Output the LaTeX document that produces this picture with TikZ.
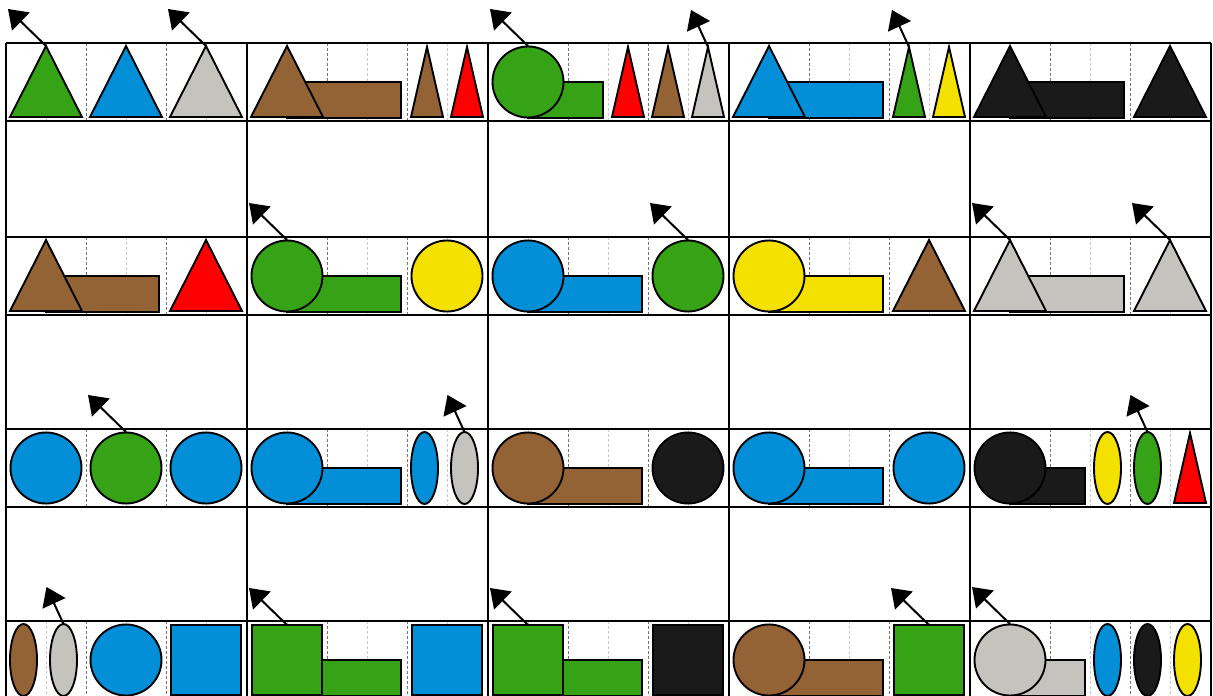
\documentclass[tikz,border=0pt]{standalone}
\usetikzlibrary{arrows.meta}
\definecolor{cgreen}{RGB}{54,162,21}
\definecolor{cblue}{RGB}{3,142,216}
\definecolor{cgray}{RGB}{196,195,190}
\definecolor{cbrown}{RGB}{148,99,53}
\definecolor{cred}{RGB}{255,0,0}
\definecolor{cyellow}{RGB}{245,225,0}
\definecolor{cblack}{RGB}{26,26,26}
\tikzset{
  shp/.style={draw=black, line width=1.9pt},
  frameline/.style={line width=1.9pt, black},
  darkguide/.style={draw=black!55, line width=1.1pt, dash pattern=on 3pt off 2pt},
  lightguide/.style={draw=black!22, line width=1.1pt, dash pattern=on 3pt off 2pt},
  pointer/.style={line width=2pt, -{Triangle[length=18pt,width=25pt]}},
}
\newcommand\guides[2]{%
  \draw[lightguide] (#1+40.2,#2) -- (#1+40.2,#2+78);
  \draw[lightguide] (#1+120.5,#2) -- (#1+120.5,#2+78);
  \draw[lightguide] (#1+200.8,#2) -- (#1+200.8,#2+78);
  \draw[darkguide] (#1+80.3,#2) -- (#1+80.3,#2+78);
  \draw[darkguide] (#1+160.7,#2) -- (#1+160.7,#2+78);}
\newcommand\shTri[3]{\filldraw[shp,fill=#3] (#1-36,#2+74) -- (#1,#2+3) -- (#1+36,#2+74) -- cycle;}
\newcommand\shNtri[3]{\filldraw[shp,fill=#3] (#1-16,#2+74) -- (#1,#2+4) -- (#1+16,#2+74) -- cycle;}
\newcommand\shCirc[3]{\filldraw[shp,fill=#3] (#1,#2+39) circle[radius=35.5];}
\newcommand\shEll[3]{\filldraw[shp,fill=#3] (#1-2.5,#2+39) ellipse[x radius=13.5,y radius=36];}
\newcommand\shSq[3]{\filldraw[shp,fill=#3] (#1-35,#2+4) rectangle (#1+35,#2+74);}
\newcommand\shBar[4]{\filldraw[shp,fill=#4] (#1+40,#2+39) rectangle (#1+#3,#2+75);}
% pointer: name, x of start, y of start, leftward offset
\newcommand\ptr[4]{%
  \coordinate (#1s) at (#2,#3);
  \coordinate (#1e) at (#2-#4,#3-37);
  \draw[pointer] (#1s) -- (#1e);}
\begin{document}
\begin{tikzpicture}[x=1pt,y=-1pt]
\useasboundingbox (0,0) rectangle (1213,696);
\clip (0,0) rectangle (1213,696);
% guides
\foreach \cl in {6,247,488,729,970}{
  \foreach \rt in {43,237,429,621}{\guides{\cl}{\rt}}}
% ---- row 1 (T=43)
\shTri{6+40}{43}{cgreen}\shTri{6+120}{43}{cblue}\shTri{6+200}{43}{cgray}
\shBar{247}{43}{154}{cbrown}\shTri{247+40}{43}{cbrown}\shNtri{247+180}{43}{cbrown}\shNtri{247+220}{43}{cred}
\shBar{488}{43}{115}{cgreen}\shCirc{488+40}{43}{cgreen}\shNtri{488+140}{43}{cred}\shNtri{488+180}{43}{cbrown}\shNtri{488+220}{43}{cgray}
\shBar{729}{43}{154}{cblue}\shTri{729+40}{43}{cblue}\shNtri{729+180}{43}{cgreen}\shNtri{729+220}{43}{cyellow}
\shBar{970}{43}{154}{cblack}\shTri{970+40}{43}{cblack}\shTri{970+200}{43}{cblack}
% ---- row 2 (T=237)
\shBar{6}{237}{153}{cbrown}\shTri{6+40}{237}{cbrown}\shTri{6+200}{237}{cred}
\shBar{247}{237}{154}{cgreen}\shCirc{247+40}{237}{cgreen}\shCirc{247+200}{237}{cyellow}
\shBar{488}{237}{154}{cblue}\shCirc{488+40}{237}{cblue}\shCirc{488+200}{237}{cgreen}
\shBar{729}{237}{154}{cyellow}\shCirc{729+40}{237}{cyellow}\shTri{729+200}{237}{cbrown}
\shBar{970}{237}{154}{cgray}\shTri{970+40}{237}{cgray}\shTri{970+200}{237}{cgray}
% ---- row 3 (T=429)
\shCirc{6+40}{429}{cblue}\shCirc{6+120}{429}{cgreen}\shCirc{6+200}{429}{cblue}
\shBar{247}{429}{154}{cblue}\shCirc{247+40}{429}{cblue}\shEll{247+180}{429}{cblue}\shEll{247+220}{429}{cgray}
\shBar{488}{429}{154}{cbrown}\shCirc{488+40}{429}{cbrown}\shCirc{488+200}{429}{cblack}
\shBar{729}{429}{154}{cblue}\shCirc{729+40}{429}{cblue}\shCirc{729+200}{429}{cblue}
\shBar{970}{429}{115}{cblack}\shCirc{970+40}{429}{cblack}\shEll{970+140}{429}{cyellow}\shEll{970+180}{429}{cgreen}\shNtri{970+220}{429}{cred}
% ---- row 4 (T=621)
\shEll{6+20}{621}{cbrown}\shEll{6+60}{621}{cgray}\shCirc{6+120}{621}{cblue}\shSq{6+200}{621}{cblue}
\shBar{247}{621}{154}{cgreen}\shSq{247+40}{621}{cgreen}\shSq{247+200}{621}{cblue}
\shBar{488}{621}{154}{cgreen}\shSq{488+40}{621}{cgreen}\shSq{488+200}{621}{cblack}
\shBar{729}{621}{154}{cbrown}\shCirc{729+40}{621}{cbrown}\shSq{729+200}{621}{cgreen}
\shBar{970}{621}{115}{cgray}\shCirc{970+40}{621}{cgray}\shEll{970+140}{621}{cblue}\shEll{970+180}{621}{cblack}\shEll{970+220}{621}{cyellow}
% frame
\foreach \x in {6,247,488,729,970,1211}{\draw[frameline] (\x,43) -- (\x,700);}
\foreach \y in {43,121,237,315,429,507,621}{\draw[frameline] (6,\y) -- (1211,\y);}
% pointers
\ptr{a1}{6+40}{46}{38}
\ptr{a2}{6+200}{46}{38}
\ptr{a3}{488+40}{46}{38}
\ptr{a4}{488+220}{47}{17}
\ptr{a5}{729+180}{47}{17}
\ptr{b1}{247+40}{240}{38}
\ptr{b2}{488+200}{240}{38}
\ptr{b3}{970+40}{240}{38}
\ptr{b4}{970+200}{240}{38}
\ptr{c1}{6+120}{432}{38}
\ptr{c2}{247+217.5}{432}{17}
\ptr{c3}{970+177.5}{432}{17}
\ptr{d1}{6+57.5}{624}{17}
\ptr{d2}{247+40}{625}{38}
\ptr{d3}{488+40}{625}{38}
\ptr{d4}{729+200}{625}{38}
\ptr{d5}{970+40}{624}{38}
\end{tikzpicture}
\end{document}
